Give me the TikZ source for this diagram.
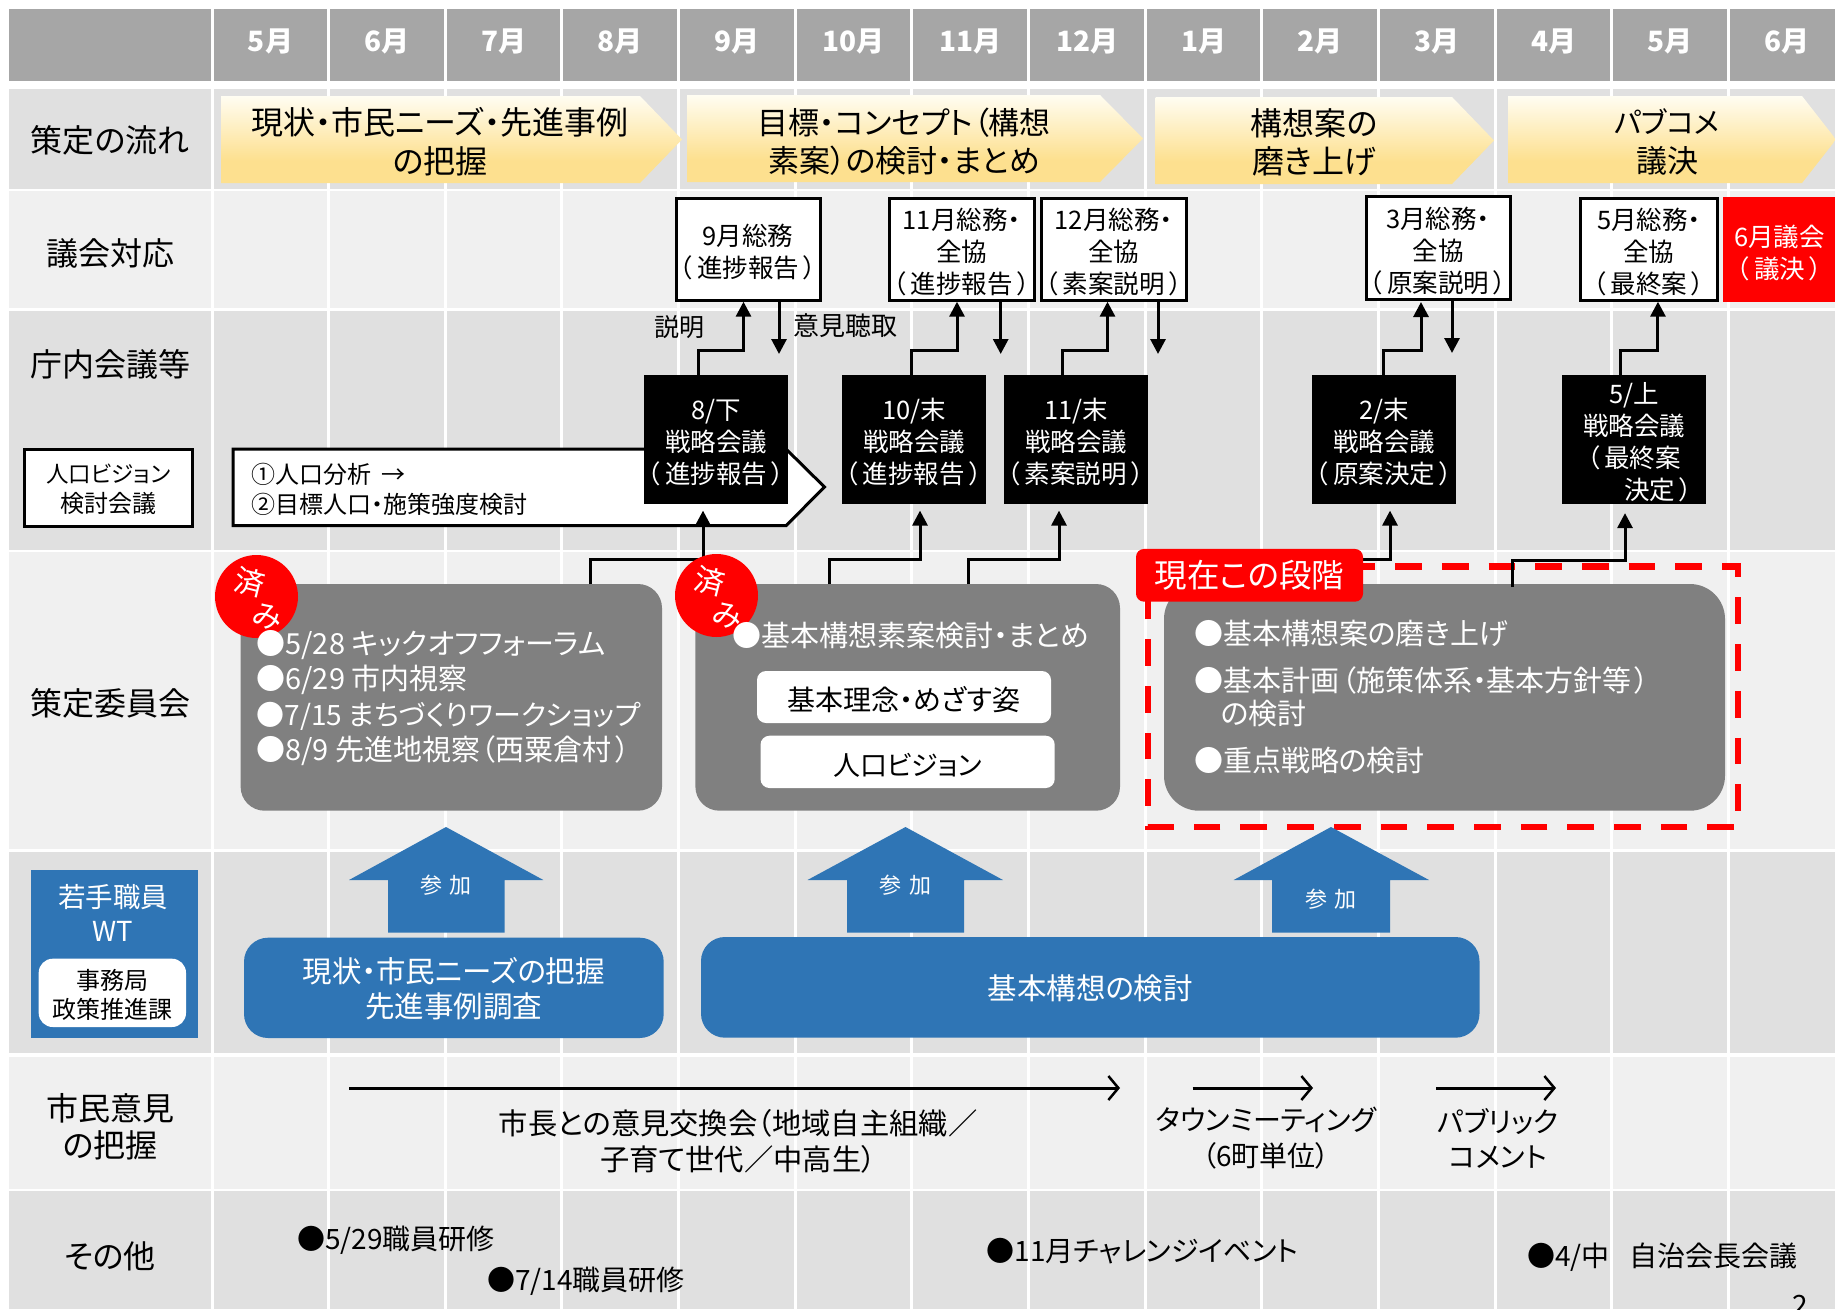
\documentclass[tikz,border=0pt]{standalone}
\usepackage{fontspec}
\setmainfont{Noto Sans CJK JP}[RawFeature={+palt}]
\usetikzlibrary{arrows.meta,calc,shapes.geometric}
\definecolor{hdr}{HTML}{A6A6A6}
\definecolor{rowd}{HTML}{E0E0E0}
\definecolor{rowl}{HTML}{F0F0F0}
\definecolor{gbox}{HTML}{808080}
\definecolor{bluex}{HTML}{2F75B5}
\definecolor{amb}{HTML}{FDE08F}
\definecolor{cream}{HTML}{FFFDF2}
\pgfdeclareverticalshading{amber}{100bp}{color(0bp)=(amb); color(25bp)=(amb); color(38bp)=(amb); color(75bp)=(cream); color(100bp)=(cream)}
\newcommand\fs[2]{\fontsize{#1}{#2}\selectfont}
\newcommand\lp{（\kern.18em}
\newcommand\rp{\kern.18em）}
\def\rdy{3}
\newcommand\rnode[7]{%
  \node[#1,minimum width={#5-#3},minimum height={#6-#4}] (#2) at ({(#3+#5)/2},{(#4+#6)/2}) {};
  \node[#1,draw=none,fill=none,minimum width=0pt,minimum height=0pt] (#2t) at ({(#3+#5)/2},{(#4+#6)/2+\rdy}) {#7};}
\tikzset{
  x=1pt,y=-1pt,
  every node/.style={inner sep=0pt,outer sep=0pt},
  txt/.style={align=center,text=black},
  lab/.style={txt,font={\fs{32}{37}}},
  flow/.style={txt,font={\fs{31}{38.5}}},
  mon/.style={text=white,font={\fs{28}{32}\bfseries}},
  gikai/.style={draw=black,line width=3pt,fill=white,align=center,font={\fs{25.5}{32}}},
  redbox/.style={fill=red,text=white,align=center,font={\fs{25.5}{32}}},
  blk/.style={fill=black,text=white,align=center,font={\fs{25.5}{32}}},
  gray/.style={fill=gbox,rounded corners=#1},
  gray/.default=24pt,
  wrb/.style={fill=white,rounded corners=9pt,text=black,align=center,font={\fs{28}{30}}},
  bl/.style={fill=bluex,rounded corners=24pt,text=white,align=center,font={\fs{29.5}{35}}},
  wlist/.style={text=white,align=left,font={\fs{29}{35.3}}},
  conn/.style={draw=black,line width=3pt},
  arr/.style={conn,-{Stealth[length=15pt,width=15pt,inset=0pt]}},
  barb/.style={draw=black,line width=3pt,-{Straight Barb[length=10pt,width=24pt,line width=2.5pt]}},
  other/.style={text=black,anchor=west,font={\fs{28}{30}}},
  citizen/.style={txt,font={\fs{28}{35.5}}},
  uparrow/.style={fill=bluex},
  sanka/.style={text=white,font={\fs{22}{26}}},
  done/.style={text=white,font={\fs{30}{30}},rotate=-14},
}
\begin{document}
\begin{tikzpicture}
\useasboundingbox (0,0) rectangle (1835,1309);
\clip (0,0) rectangle (1835,1309);
\fill[white] (0,0) rectangle (1835,1309);
% bands
\fill[hdr] (9,9) rectangle (1835,81);
\fill[rowd] (9,88.5) rectangle (1835,188.6);
\fill[rowl] (9,191) rectangle (1835,308);
\fill[rowd] (9,311) rectangle (1835,550);
\fill[rowl] (9,552) rectangle (1835,849);
\fill[rowd] (9,852) rectangle (1835,1053);
\fill[rowl] (9,1057) rectangle (1835,1189);
\fill[rowd] (9,1191) rectangle (1835,1309);
\foreach \i in {0,...,13} \draw[white,line width=3pt] ({212+116.65*\i},9) -- ({212+116.65*\i},1309);
% months
\foreach \i/\m in {0/5,1/6,2/7,3/8,4/9,5/10,6/11,7/12,8/1,9/2,10/3,11/4,12/5,13/6}
  \node[mon] (mon\i) at ({270.5+116.65*\i},41) {\m 月};
% flow arrows
\shade[shading=amber] (221,96) -- (640,96) -- (682,139.5) -- (640,183) -- (221,183) -- cycle;
\shade[shading=amber] (687,95) -- (1100,95) -- (1143,138.5) -- (1100,182) -- (687,182) -- cycle;
\shade[shading=amber] (1155.6,97) -- (1452,97) -- (1494,140.5) -- (1452,184) -- (1155.6,184) -- cycle;
\shade[shading=amber] (1508,96) -- (1802,96) -- (1836,139.5) -- (1802,183) -- (1508,183) -- cycle;
\node[flow,font={\fs{32}{38.5}}] (f1) at (440,141.5) {現状・市民ニーズ・先進事例\\の把握};
\node[flow] (f2) at (904,141.5) {目標・コンセプト（構想\\素案）の検討・まとめ};
\node[flow,font={\fs{32}{38.5}}] (f3) at (1314,142.5) {構想案の\\磨き上げ};
\node[flow] (f4) at (1667,142) {{\fs{29}{38.5}パブコメ}\\議決};
% left labels
\node[lab] (l1) at (110,140) {策定の流れ};
\node[lab] (l2) at (110,253) {議会対応};
\node[lab] (l3) at (110,364) {庁内会議等};
\node[lab] (l4) at (110,703) {策定委員会};
\node[lab] (l5) at (110,1126.5) {市民意見\\の把握};
\node[lab] (l6) at (110,1256) {その他};
\def\rdy{2}
\rnode{draw=black,line width=3pt,fill=white,align=center,font={\fs{24}{29.5}}}{pv}{24}{449}{192.5}{526}{{\fs{22.5}{29.5}人口ビジョン}\\検討会議}
% population pentagon
\draw[draw=black,line width=3pt,fill=white] (233,449) -- (786,449) -- (824.5,487) -- (786,525.7) -- (233,525.7) -- cycle;
\node[text=black,anchor=west,align=left,font={\fs{24}{30}}] (pvt) at (251,489.5) {①人口分析 \ →\\②目標人口・施策強度検討};
\def\rdy{3}
% council boxes
\rnode{gikai}{g9}{676}{198}{820}{300.7}{9月総務\\\lp 進捗報告\rp}
\rnode{gikai}{g11}{889}{198}{1034}{300.7}{11月総務・\\全協\\\lp 進捗報告\rp}
\rnode{gikai}{g12}{1041}{198}{1186}{300.7}{12月総務・\\全協\\\lp 素案説明\rp}
\rnode{gikai}{g3}{1366}{196}{1510}{299}{3月総務・\\全協\\\lp 原案説明\rp}
\rnode{gikai}{g5}{1580.5}{198}{1717}{300.7}{5月総務・\\全協\\\lp 最終案\rp}
\rnode{redbox}{g6}{1723}{197}{1836}{302}{6月議会\\\lp 議決\rp}
% black boxes
\rnode{blk}{b8}{644}{375}{788}{503.6}{8/下\\戦略会議\\\lp 進捗報告\rp}
\rnode{blk}{b10}{842}{375}{986}{503.6}{10/末\\戦略会議\\\lp 進捗報告\rp}
\rnode{blk}{b11}{1004}{375}{1148}{503.6}{11/末\\戦略会議\\\lp 素案説明\rp}
\rnode{blk}{b2}{1312}{375}{1456}{503.6}{2/末\\戦略会議\\\lp 原案決定\rp}
\rnode{blk}{b5}{1562}{375}{1706}{503.6}{5/上\\戦略会議\\\lp 最終案\\\hspace*{1.9em}決定\rp}
% labels on arrows
\node[txt,font={\fs{25}{30}}] (ex) at (679,327) {説明};
\node[txt,font={\fs{26}{30}}] (op) at (845,326) {意見聴取};
% up/down arrows
\draw[arr] ([xshift=-17.6pt]b8.north) -- ++(0,-24.3) -| ([xshift=-4.5pt,yshift=-1pt]g9.south);
\draw[arr] ([xshift=-2.6pt]b10.north) -- ++(0,-24.3) -| ([xshift=-4.5pt,yshift=-1pt]g11.south);
\draw[arr] ([xshift=-14pt]b11.north) -- ++(0,-24.3) -| ([xshift=-6pt,yshift=-1pt]g12.south);
\draw[arr] ([xshift=-1pt]b2.north) -- ++(0,-24.3) -| ([xshift=-17pt,yshift=-3pt]g3.south);
\draw[arr] ([xshift=-13.6pt]b5.north) -- ++(0,-24.3) -| ([xshift=9.2pt,yshift=-1pt]g5.south);
\coordinate (d9) at (779,354);
\coordinate (d11) at (1000.7,354);
\coordinate (d12) at (1158,354);
\coordinate (d3) at (1452,353);
\draw[arr] (g9.south -| d9) -- (d9);
\draw[arr] (g11.south -| d11) -- (d11);
\draw[arr] (g12.south -| d12) -- (d12);
\draw[arr] (g3.south -| d3) -- (d3);
% committees
\rnode{gray}{c1}{240.6}{584}{662}{810.7}{}
\rnode{gray}{c2}{695.4}{584}{1120}{810.7}{}
\rnode{gray=35pt}{c3}{1164}{584}{1725}{810.7}{}
% connectors up from committees
\draw[arr] ([xshift=138.7pt]c1.north) -- ++(0,-25) -| ([xshift=-13pt,yshift=-7pt]b8.south);
\draw[arr] ([xshift=-78.7pt]c2.north) -- ++(0,-25) -| ([xshift=6pt,yshift=-7pt]b10.south);
\draw[arr] ([xshift=60.3pt]c2.north) -- ++(0,-25) -| ([xshift=-17pt,yshift=-7pt]b11.south);
% dashed current stage
\draw[draw=red,line width=6.5pt,dash pattern=on 26.7pt off 20pt,dash phase=33.1pt] (1148,566.7) -- (1738,566.7) -- (1738,827) -- (1148,827) -- cycle;
\draw[arr] ([xshift=-104.5pt]c3.north) -- ++(0,-25) -| ([xshift=6pt,yshift=-7pt]b2.south);
\draw[arr] ([xshift=67.5pt,yshift=-3pt]c3.north) -- ++(0,-26.5) -| ([xshift=-9pt,yshift=-9.5pt]b5.south);
% done marks
\node[ellipse,fill=red,minimum width=83pt,minimum height=83pt] (e1) at (256.5,596.5) {};
\node[ellipse,fill=red,minimum width=83pt,minimum height=83pt] (e2) at (716.5,595.5) {};
\node[done] (e1a) at (250,582) {済};
\node[done] (e1b) at (267,617) {み};
\node[done] (e2a) at (710,581) {済};
\node[done] (e2b) at (727,616) {み};
% committee texts
\node[wlist,anchor=west] (c1t) at (256.5,698) {●5/28 キックオフフォーラム\\●6/29 市内視察\\{\fs{28}{35.3}●7/15 まちづくりワークショップ}\\●8/9 先進地視察（西粟倉村\kern.15em）};
\node[wlist,anchor=west] (c2t) at (732.4,636) {●基本構想素案検討・まとめ};
\rnode{wrb}{w1}{757}{671}{1051}{723}{基本理念・めざす姿}
\rnode{wrb}{w2}{760.5}{735.7}{1054.7}{788}{\fs{27}{30}人口ビジョン}
\node[wlist,anchor=west] (c3a) at (1194,634) {●基本構想案の磨き上げ};
\node[wlist,anchor=west] (c3b) at (1194,680) {●基本計画\kern.1em（施策体系・基本方針等\kern.1em）};
\node[wlist,anchor=west] (c3c) at (1221,714) {の検討};
\node[wlist,anchor=west] (c3d) at (1194,760) {●重点戦略の検討};
% current label
\node[fill=red,rounded corners=8pt,minimum width=227pt,minimum height=52.7pt] (now) at (1249.5,575.3) {};
\node[text=white,font={\fs{32.5}{34}}] (nowt) at (1249.5,575.3) {現在この段階};
% WT
\def\rdy{0}
\rnode{fill=bluex}{wt}{31}{870}{198}{1037.7}{}
\node[text=white,align=center,font={\fs{27.5}{34}}] (wtt) at (113,913) {若手職員\\WT};
\def\rdy{2.5}
\rnode{fill=white,rounded corners=14pt,align=center,font={\fs{24}{29}},text=black}{wtb}{38.7}{958.7}{186}{1027}{事務局\\政策推進課}
% blue boxes
\def\rdy{0.5}
\rnode{bl}{bb1}{244}{937.7}{663.7}{1038}{現状・市民ニーズの把握\\先進事例調査}
\rnode{bl}{bb2}{701}{937}{1479.5}{1037.7}{基本構想の検討}
% block arrows
\fill[uparrow] (446,827) -- (543.4,880) -- (504.7,880) -- (504.7,932.7) -- (388,932.7) -- (388,880) -- (349,880) -- cycle;
\fill[uparrow] (905.5,827) -- (1003,880) -- (964,880) -- (964,932.7) -- (847,932.7) -- (847,880) -- (807.5,880) -- cycle;
\fill[uparrow] (1331,827) -- (1429,880) -- (1390,880) -- (1390,932.7) -- (1272,932.7) -- (1272,880) -- (1233.7,880) -- cycle;
\node[sanka] (s1) at (446,885) {参\hspace{.35em}加};
\node[sanka] (s2) at (905.5,885) {参\hspace{.35em}加};
\node[sanka] (s3) at (1331,899) {参\hspace{.35em}加};
% citizen
\coordinate (a1s) at (349,1088); \coordinate (a1e) at (1120,1088);
\coordinate (a2s) at (1192.5,1088); \coordinate (a2e) at (1313,1088);
\coordinate (a3s) at (1436,1088); \coordinate (a3e) at (1556,1088);
\draw[barb] (a1s) -- (a1e);
\draw[barb] (a2s) -- (a2e);
\draw[barb] (a3s) -- (a3e);
\node[citizen,font={\fs{29.3}{35.5}}] (m1) at (738,1141.5) {市長との意見交換会（地域自主組織／\\子育て世代／中高生）};
\node[citizen] (m2) at (1266,1138) {タウンミーティング\\（6町単位）};
\node[citizen] (m3) at (1498,1138.5) {パブリック\\コメント};
% other
\node[other] (o1) at (297,1240) {●5/29職員研修};
\node[other] (o2) at (487,1281.5) {●7/14職員研修};
\node[other] (o3) at (986.5,1251.5) {●11月チャレンジイベント};
\node[other] (o4) at (1527,1257.5) {●4/中\hspace{.7em}自治会長会議};
\node[text=black,font={\fs{28}{30}}] (pg) at (1800,1305) {2};
\end{tikzpicture}
\end{document}
